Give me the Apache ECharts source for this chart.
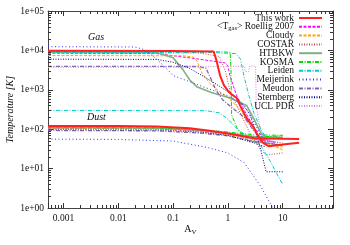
<!DOCTYPE html>
<html><head><meta charset="utf-8">
<script src="https://cdn.jsdelivr.net/npm/echarts@6/dist/echarts.min.js"></script>
<style>html,body{margin:0;padding:0;background:#fff}#c{width:350px;height:245px}</style>
</head><body><div id="c"></div>
<script>
// ---- data (A_V, temperature K) ----
const modelNames = ['This work','<T_gas> Roellig 2007','Cloudy','COSTAR','HTBKW','KOSMA','Leiden','Meijerink','Meudon','Sternberg','UCL PDR'];
const xTickValues = [0.001, 0.01, 0.1, 1, 10];
const yTickValues = [1, 10, 100, 1000, 10000, 100000];

const thisWorkGas = [[0.00052,9800],[0.1,9700],[0.55,9400],[0.62,5500],[0.72,2300],[0.85,1300],[1.0,950],[1.15,780],[1.45,620],[1.7,380],[2.2,190],[2.9,116],[3.6,65],[4.4,45],[5.5,37],[10,41],[20,45]];
const thisWorkDust = [[0.00052,121],[0.01,120],[0.05,117],[0.2,105],[0.5,90],[1,78],[2,65],[3,60],[5,58],[20,56]];
const roelligGas = [[0.00052,8500],[0.05,8300],[0.23,6300],[0.5,5400],[0.9,4800],[1.0,4000],[1.1,2200],[1.45,700],[2,300],[3,110],[4,70],[5,55],[7,45]];
const roelligDust = [[0.00052,108],[0.05,105],[0.3,92],[1,80],[3,55],[7,48]];
const cloudyGas = [[0.00052,7400],[0.15,7300],[0.23,6800],[0.27,5500],[0.34,2600],[0.47,1450],[0.7,900],[0.96,670],[1.7,310],[2.5,130],[3.5,70],[5,45],[10,30]];
const cloudyDust = [[0.00052,106],[0.05,102],[0.3,88],[1,72],[3,50],[10,35]];
const costarGas = [[0.00052,8800],[0.3,8600],[0.7,7000],[0.9,3000],[1.1,900],[1.6,300],[2.7,65],[4,30],[5,22],[10,25]];
const costarDust = [[0.00052,104],[0.05,101],[0.3,90],[1,75],[3,55],[10,45]];
const htbkwGas = [[0.00052,9000],[0.05,8800],[0.1,6500],[0.15,3300],[0.2,1800],[0.27,1200],[0.5,850],[1.1,620],[2.2,400],[3,180],[4,80],[5,60],[10,58]];
const htbkwDust = [[0.00052,110],[0.05,107],[0.3,95],[1,80],[3,65],[10,62]];
const kosmaGas = [[0.00052,9400],[0.5,9300],[1.1,9000],[1.14,3000],[1.17,230],[1.5,100],[2.4,48],[4.2,48],[5,65],[10,68]];
const kosmaDust = [[0.00052,110],[0.05,108],[0.3,98],[1,85],[3,72],[10,70]];
const leidenGas = [[0.00052,8900],[0.5,8800],[1.4,8300],[1.7,6000],[2,2000],[2.5,600],[3,250],[4,100],[5,60],[10,58]];
const leidenDust = [[0.00052,300],[0.4,295],[0.7,260],[1,180],[1.5,100],[2.5,60],[4,38],[6,15],[8,7],[10,4]];
const meijerinkGas = [[0.00052,12400],[0.02,12200],[0.03,10500],[0.05,6000],[0.08,3200],[0.1,2300],[0.2,1600],[0.5,1000],[1,700],[2,400],[3,150],[4,70],[5,50],[8,45]];
const meijerinkDust = [[0.00052,56],[0.01,55],[0.1,50],[0.4,35],[1,25],[2,14],[4,3.5],[6.6,1]];
const meudonGas = [[0.00052,3950],[0.3,3900],[0.4,3500],[0.5,1800],[0.6,1000],[0.8,560],[1.2,350],[2,200],[3,90],[5,45],[10,38]];
const meudonDust = [[0.00052,93],[0.05,91],[0.3,80],[1,68],[3,48],[10,40]];
const sternbergGas = [[0.00052,6000],[0.05,5900],[0.1,5000],[0.2,3500],[0.4,2000],[0.8,1100],[1.5,600],[2.5,250],[3.5,60],[4.5,15],[5,8.3],[10,8.3]];
const sternbergDust = [[0.00052,98],[0.05,96],[0.3,85],[1,70],[3,45],[5,35]];
const uclGas = [[0.00052,3700],[0.1,3750],[1,3900],[2.0,4000],[2.07,2900],[2.4,2900],[2.5,4000],[3.2,4000],[3.3,370],[4,90],[5,50],[8,45]];
const uclDust = [[0.00052,100],[0.05,98],[0.3,88],[1,75],[3,55],[8,48]];

const modelData = [
  [thisWorkGas, thisWorkDust], [roelligGas, roelligDust], [cloudyGas, cloudyDust], [costarGas, costarDust],
  [htbkwGas, htbkwDust], [kosmaGas, kosmaDust], [leidenGas, leidenDust], [meijerinkGas, meijerinkDust],
  [meudonGas, meudonDust], [sternbergGas, sternbergDust], [uclGas, uclDust]
];

// ---- styles ----
const styles = [
  {color:'#ff2020', width:2, type:'solid'},
  {color:'#ff00ff', width:1, type:[3,1.5]},
  {color:'#ffa500', width:1, type:[3,1.5]},
  {color:'#c05050', width:1, type:[1,1.5]},
  {color:'#80b080', width:1.6, type:'solid'},
  {color:'#00dd00', width:1, type:[4,1.5,1,1.5]},
  {color:'#00cccc', width:1, type:[4,1.5,1,1.5]},
  {color:'#3030ff', width:1, type:[1,2.5]},
  {color:'#8860b0', width:1.3, type:[4,1.5,1,1.5]},
  {color:'#00008c', width:1, type:[1,1.5]},
  {color:'#e080e0', width:1, type:[1,1.5]}
];

const XMIN = 0.00052, XMAX = 83, YMIN = 1, YMAX = 100000;
const FONT = 'Liberation Serif';

function isPow10(v){ const l = Math.log10(v); return Math.abs(l - Math.round(l)) < 1e-6; }

// minor tick values
const xMinor = [], yMinor = [];
for (let d = -4; d <= 2; d++) for (let k = 2; k <= 9; k++) { const v = k*Math.pow(10,d); if (v > XMIN && v < XMAX) xMinor.push([v, 1]); }
for (let d = 0; d <= 4; d++) for (let k = 2; k <= 9; k++) { const v = k*Math.pow(10,d); if (v > YMIN && v < YMAX) yMinor.push([1, v]); }

const series = [];
modelNames.forEach((name, i) => {
  const st = styles[i];
  modelData[i].forEach(arr => {
    series.push({
      name: name, type: 'line', data: arr, symbol: 'none', smooth: false,
      lineStyle: {color: st.color, width: st.width, type: st.type},
      itemStyle: {color: st.color},
      z: i === 0 ? 5 : 3, silent: true, animation: false
    });
  });
});
series.push({
  type: 'custom', silent: true, animation: false, data: xMinor, z: 6,
  renderItem: function(params, api){
    const cs = params.coordSys; const p = api.coord([api.value(0), 1]);
    const x = Math.round(p[0]) + 0.5, b = cs.y + cs.height, t = cs.y;
    return {type:'group', children:[
      {type:'line', shape:{x1:x,y1:b,x2:x,y2:b-3}, style:{stroke:'#333', lineWidth:1}},
      {type:'line', shape:{x1:x,y1:t,x2:x,y2:t+3}, style:{stroke:'#333', lineWidth:1}}
    ]};
  }
});
series.push({
  type: 'custom', silent: true, animation: false, data: yMinor, z: 6,
  renderItem: function(params, api){
    const cs = params.coordSys; const p = api.coord([XMIN*1.0001, api.value(1)]);
    const y = Math.round(p[1]) + 0.5, l = cs.x, r = cs.x + cs.width;
    return {type:'group', children:[
      {type:'line', shape:{x1:l,y1:y,x2:l+3,y2:y}, style:{stroke:'#333', lineWidth:1}},
      {type:'line', shape:{x1:r,y1:y,x2:r-3,y2:y}, style:{stroke:'#333', lineWidth:1}}
    ]};
  }
});

const axisLineStyle = {show:true, lineStyle:{color:'#444', width:1}};
const chart = echarts.init(document.getElementById('c'), null, {renderer:'canvas'});
chart.setOption({
  animation: false,
  backgroundColor: '#fff',
  grid: {left: 48, right: 17, top: 11, bottom: 37, containLabel: false, outerBoundsMode: 'none'},
  xAxis: [
    {type:'log', logBase:10, min:XMIN, max:XMAX, position:'bottom',
     axisLine: axisLineStyle, splitLine:{show:false},
     axisTick:{show:true, inside:true, length:5, lineStyle:{color:'#333'}},
     axisLabel:{fontFamily:FONT, fontSize:9.5, color:'#111', margin:5, showMinLabel:true, showMaxLabel:true,
       formatter: v => { const t = xTickValues.find(t => Math.abs(Math.log10(t)-Math.log10(v))<1e-6); return t === undefined ? '' : String(t); }},
     name:'A{s|V}', nameLocation:'middle', nameGap:15, nameMoveOverlap:false,
     nameTextStyle:{fontFamily:FONT, fontSize:10, color:'#111', rich:{s:{fontFamily:FONT, fontSize:7, padding:[6,0,0,0], color:'#111'}}}
    },
    {type:'log', logBase:10, min:XMIN, max:XMAX, position:'top',
     axisLine: axisLineStyle, splitLine:{show:false},
     axisTick:{show:true, inside:true, length:5, lineStyle:{color:'#333'}}, axisLabel:{show:false}}
  ],
  yAxis: [
    {type:'log', logBase:10, min:YMIN, max:YMAX, position:'left', splitNumber:5,
     axisLine: axisLineStyle, splitLine:{show:false},
     axisTick:{show:true, inside:true, length:5, lineStyle:{color:'#333'}},
     axisLabel:{fontFamily:FONT, fontSize:9.5, color:'#111', margin:4,
       formatter: v => { if (!isPow10(v)) return ''; const e = Math.round(Math.log10(v)); return yTickValues.includes(Math.pow(10,e)) ? '1e+' + String(e).padStart(2,'0') : ''; }},
     name:'Temperature [K]', nameLocation:'middle', nameGap:33, nameMoveOverlap:false,
     nameTextStyle:{fontFamily:FONT, fontSize:10, fontStyle:'italic', color:'#111'}
    },
    {type:'log', logBase:10, min:YMIN, max:YMAX, position:'right', splitNumber:5,
     axisLine: axisLineStyle, splitLine:{show:false},
     axisTick:{show:true, inside:true, length:5, lineStyle:{color:'#333'}}, axisLabel:{show:false}}
  ],
  legend: {
    data: modelNames, orient:'vertical', right: 27, top: 13, align:'right',
    itemWidth: 23, itemHeight: 6, itemGap: -1.2, padding: 0,
    selectedMode: false,
    itemStyle: {opacity: 0, borderWidth: 0},
    formatter: n => n === '<T_gas> Roellig 2007' ? '<T{s|gas}> Roellig 2007' : n,
    textStyle: {fontFamily:FONT, fontSize:9.5, color:'#111', lineHeight:9,
      rich:{s:{fontFamily:FONT, fontSize:6.5, lineHeight:9, padding:[3,0,0,0], color:'#111'}}}
  },
  graphic: [
    {type:'text', left: 88, top: 32, style:{text:'Gas', font:'italic 10px "Liberation Serif"', fill:'#111'}},
    {type:'text', left: 87, top: 112, style:{text:'Dust', font:'italic 10px "Liberation Serif"', fill:'#111'}}
  ],
  series: series
});
</script></body></html>
